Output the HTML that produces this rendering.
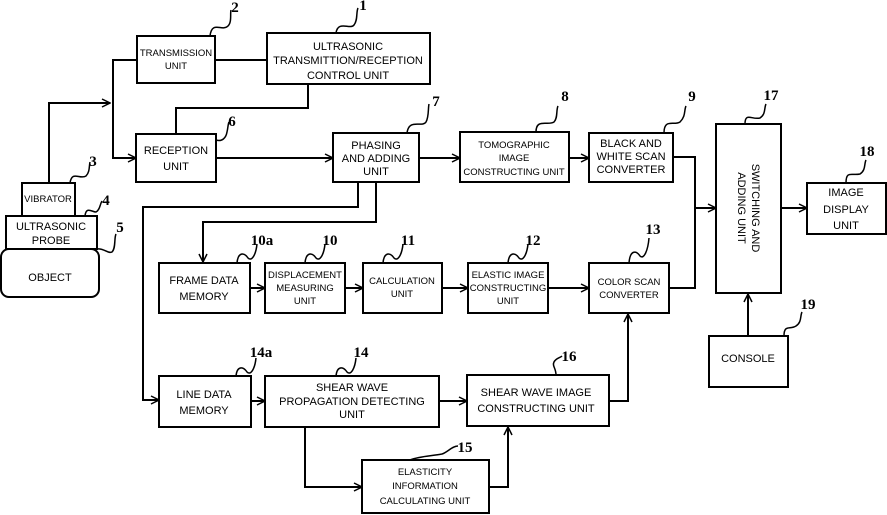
<!DOCTYPE html>
<html><head><meta charset="utf-8"><style>
html,body{margin:0;padding:0;background:#fff}
svg{display:block}
text{font-family:"Liberation Sans",Arial,sans-serif;font-size:11px;fill:#000;text-anchor:middle}
.n{font-family:"Liberation Serif",serif;font-size:15px;font-weight:bold}
.s{font-size:9.5px}
rect{fill:#fff;stroke:#000;stroke-width:2}
.l{fill:none;stroke:#000;stroke-width:2}
.q{fill:none;stroke:#000;stroke-width:1.5}
</style></head><body>
<svg width="887" height="515" viewBox="0 0 887 515" xmlns="http://www.w3.org/2000/svg">
<defs><marker id="a" markerWidth="10" markerHeight="10" refX="9" refY="5" orient="auto" markerUnits="userSpaceOnUse"><path d="M1,1 L9,5 L1,9" fill="none" stroke="#000" stroke-width="1.5"/></marker></defs>

<!-- connectors -->
<path class="l" d="M137,60 H113 V158 H136" marker-end="url(#a)"/>
<path class="l" d="M49,183 V103 H110" marker-end="url(#a)"/>
<path class="l" d="M215,60 H267"/>
<path class="l" d="M308,84 V108 H176 V134"/>
<path class="l" d="M216,158 H333" marker-end="url(#a)"/>
<path class="l" d="M419,158 H460" marker-end="url(#a)"/>
<path class="l" d="M569,158 H589" marker-end="url(#a)"/>
<path class="l" d="M358,182 V207 H143 V400 H159" marker-end="url(#a)"/>
<path class="l" d="M376,182 V222 H203 V262" marker-end="url(#a)"/>
<path class="l" d="M673,157 H695 V288 H669"/>
<path class="l" d="M695,208 H716" marker-end="url(#a)"/>
<path class="l" d="M781,208 H807" marker-end="url(#a)"/>
<path class="l" d="M748,336 V294" marker-end="url(#a)"/>
<path class="l" d="M250,288 H265" marker-end="url(#a)"/>
<path class="l" d="M345,288 H363" marker-end="url(#a)"/>
<path class="l" d="M442,288 H468" marker-end="url(#a)"/>
<path class="l" d="M548,288 H589" marker-end="url(#a)"/>
<path class="l" d="M251,401 H265" marker-end="url(#a)"/>
<path class="l" d="M439,401 H467" marker-end="url(#a)"/>
<path class="l" d="M305,427 V487 H362" marker-end="url(#a)"/>
<path class="l" d="M489,487 H508 V427" marker-end="url(#a)"/>
<path class="l" d="M609,401 H628 V314" marker-end="url(#a)"/>

<!-- boxes -->
<rect x="137" y="36" width="78" height="47"/>
<text class="s" x="176" y="56">TRANSMISSION</text><text class="s" x="176" y="69">UNIT</text>
<rect x="267" y="33" width="163" height="51"/>
<text x="348" y="50">ULTRASONIC</text><text x="348" y="64">TRANSMITTION/RECEPTION</text><text x="348" y="79">CONTROL UNIT</text>
<rect x="136" y="134" width="80" height="48"/>
<text x="176" y="154">RECEPTION</text><text x="176" y="170">UNIT</text>
<rect x="333" y="133" width="86" height="49"/>
<text x="376" y="149">PHASING</text><text x="376" y="162">AND ADDING</text><text x="376" y="175">UNIT</text>
<rect x="460" y="132" width="109" height="50"/>
<text class="s" x="514" y="148">TOMOGRAPHIC</text><text class="s" x="514" y="161">IMAGE</text><text class="s" x="514" y="175">CONSTRUCTING UNIT</text>
<rect x="589" y="133" width="84" height="49"/>
<text x="631" y="147">BLACK AND</text><text x="631" y="160">WHITE SCAN</text><text x="631" y="173">CONVERTER</text>
<rect x="716" y="124" width="65" height="169"/>
<text x="0" y="0" transform="translate(748,208) rotate(90)"><tspan x="0" y="-4">SWITCHING AND</tspan><tspan x="0" y="10">ADDING UNIT</tspan></text>
<rect x="807" y="183" width="79" height="51"/>
<text x="846" y="196">IMAGE</text><text x="846" y="213">DISPLAY</text><text x="846" y="229">UNIT</text>
<rect x="22" y="183" width="53" height="33"/>
<text class="s" x="48" y="202">VIBRATOR</text>
<rect x="6" y="216" width="91" height="33"/>
<text x="51" y="230">ULTRASONIC</text><text x="51" y="244">PROBE</text>
<rect x="1" y="249" width="98" height="48" rx="8"/>
<text x="50" y="281">OBJECT</text>
<rect x="159" y="263" width="91" height="50"/>
<text x="204" y="284">FRAME DATA</text><text x="204" y="300">MEMORY</text>
<rect x="265" y="263" width="80" height="50"/>
<text class="s" x="305" y="278">DISPLACEMENT</text><text class="s" x="305" y="291">MEASURING</text><text class="s" x="305" y="304">UNIT</text>
<rect x="363" y="263" width="79" height="50"/>
<text class="s" x="402" y="284">CALCULATION</text><text class="s" x="402" y="297">UNIT</text>
<rect x="468" y="263" width="80" height="50"/>
<text class="s" x="508" y="278">ELASTIC IMAGE</text><text class="s" x="508" y="291">CONSTRUCTING</text><text class="s" x="508" y="304">UNIT</text>
<rect x="589" y="263" width="80" height="50"/>
<text class="s" x="629" y="285">COLOR SCAN</text><text class="s" x="629" y="298">CONVERTER</text>
<rect x="709" y="336" width="79" height="51"/>
<text x="748" y="362">CONSOLE</text>
<rect x="159" y="376" width="92" height="51"/>
<text x="204" y="398">LINE DATA</text><text x="204" y="414">MEMORY</text>
<rect x="265" y="376" width="174" height="51"/>
<text x="352" y="391">SHEAR WAVE</text><text x="352" y="405">PROPAGATION DETECTING</text><text x="352" y="418">UNIT</text>
<rect x="467" y="375" width="142" height="51"/>
<text x="536" y="396">SHEAR WAVE IMAGE</text><text x="536" y="412">CONSTRUCTING UNIT</text>
<rect x="362" y="460" width="127" height="53"/>
<text class="s" x="425" y="475">ELASTICITY</text><text class="s" x="425" y="489">INFORMATION</text><text class="s" x="425" y="504">CALCULATING UNIT</text>

<!-- reference squiggles and numbers -->
<path class="q" d="M210,36 C212,20 222,32 228,26 C232,22 230,14 231,10"/><text class="n" x="235" y="12">2</text>
<path class="q" d="M336,33 C338,20 350,30 354,25 C358,20 356,12 358,8"/><text class="n" x="363" y="10">1</text>
<path class="q" d="M407,133 C409,118 422,128 426,122 C429,117 428,108 429,104"/><text class="n" x="436" y="106">7</text>
<path class="q" d="M216,140 C222,142 226,138 227,132 C228,128 228,124 229,122"/><text class="n" x="232" y="126">6</text>
<path class="q" d="M70,183 C72,170 80,180 86,176 C90,172 89,166 90,162"/><text class="n" x="93" y="166">3</text>
<path class="q" d="M85,216 C86,206 92,212 96,212 C100,210 100,204 102,201"/><text class="n" x="106" y="205">4</text>
<path class="q" d="M97,249 C104,248 108,254 112,252 C116,248 114,238 116,234"/><text class="n" x="120" y="232">5</text>
<path class="q" d="M536,132 C536,118 548,126 554,122 C558,118 556,110 558,106"/><text class="n" x="565" y="101">8</text>
<path class="q" d="M664,133 C664,118 674,126 680,122 C686,116 684,110 686,106"/><text class="n" x="692" y="101">9</text>
<path class="q" d="M745,124 C745,112 752,120 760,118 C766,114 764,108 766,104"/><text class="n" x="771" y="100">17</text>
<path class="q" d="M846,183 C846,170 852,176 860,174 C866,170 864,164 866,160"/><text class="n" x="867" y="156">18</text>
<path class="q" d="M237,263 C238,252 244,252 248,258 C252,262 256,254 257,244"/><text class="n" x="262" y="245">10a</text>
<path class="q" d="M305,263 C306,252 312,252 316,258 C320,262 324,254 325,244"/><text class="n" x="330" y="245">10</text>
<path class="q" d="M383,263 C384,252 390,252 394,258 C398,262 402,254 403,244"/><text class="n" x="408" y="245">11</text>
<path class="q" d="M508,263 C509,252 515,252 519,258 C523,262 527,254 528,244"/><text class="n" x="533" y="245">12</text>
<path class="q" d="M629,263 C630,250 636,250 640,256 C644,260 648,250 649,238"/><text class="n" x="653" y="234">13</text>
<path class="q" d="M236,376 C237,366 243,366 247,372 C251,376 255,368 256,358"/><text class="n" x="261" y="357">14a</text>
<path class="q" d="M336,376 C337,366 343,366 347,372 C351,376 355,368 356,358"/><text class="n" x="361" y="357">14</text>
<path class="q" d="M556,375 C556,368 552,366 554,362 C556,358 560,358 562,356"/><text class="n" x="569" y="361">16</text>
<path class="q" d="M410,460 C420,456 432,456 442,454 C448,452 452,446 458,446"/><text class="n" x="465" y="452">15</text>
<path class="q" d="M784,336 C784,324 790,330 796,326 C802,322 800,316 802,312"/><text class="n" x="808" y="309">19</text>
</svg>
</body></html>
